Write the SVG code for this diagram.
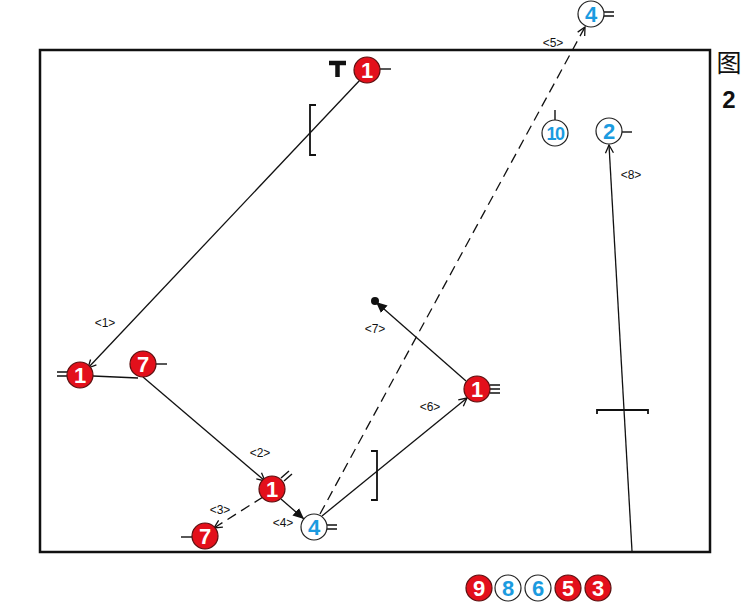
<svg xmlns="http://www.w3.org/2000/svg" width="750" height="603" viewBox="0 0 750 603">
<defs>
<style>
.red circle{fill:#e3101b;stroke:#5a1010;stroke-width:1.2}
.blue circle{fill:#fff;stroke:#222;stroke-width:1.2}
.num{font-family:"Liberation Sans",Arial,sans-serif;font-weight:bold;font-size:22px;text-anchor:middle}
.red .num{fill:#fff}
.blue .num{fill:#1b9be0}
.tail{stroke:#111;stroke-width:1.4;fill:none}
.lbl{font-family:"Liberation Sans",Arial,sans-serif;font-size:12px;fill:#111;text-anchor:middle}
.c{stroke:#111;stroke-width:1.3;fill:none}
.d{stroke-dasharray:10,6}
.br{stroke:#111;stroke-width:1.8;fill:none}
</style>
<marker id="open" markerWidth="10" markerHeight="10" refX="9" refY="5" orient="auto" markerUnits="userSpaceOnUse">
<path d="M1,1 L9,5 L1,9" fill="none" stroke="#111" stroke-width="1.3"/>
</marker>
<marker id="solid" markerWidth="12" markerHeight="10" refX="11" refY="5" orient="auto" markerUnits="userSpaceOnUse">
<path d="M0,0 L11,5 L0,10 Z" fill="#111"/>
</marker>
</defs>
<rect width="750" height="603" fill="#fff"/>
<rect x="40" y="50" width="670" height="502" fill="none" stroke="#111" stroke-width="2.5"/>
<text x="729" y="72" font-family="'Noto Sans CJK SC',sans-serif" font-size="25" text-anchor="middle" fill="#111">图</text>
<text x="729" y="108" font-family="'Liberation Sans',Arial,sans-serif" font-weight="bold" font-size="24" text-anchor="middle" fill="#111">2</text>

<g id="connectors">
<line class="c" x1="360" y1="80" x2="88" y2="368" marker-end="url(#open)"/>
<line class="c" x1="93" y1="376" x2="138" y2="378"/>
<line class="c" x1="143" y1="377" x2="265" y2="481" marker-end="url(#open)"/>
<line class="c d" x1="263" y1="497" x2="214" y2="528" marker-end="url(#open)"/>
<line class="c" x1="281" y1="499" x2="304" y2="519" marker-end="url(#solid)"/>
<line class="c d" x1="320" y1="514" x2="585" y2="27" marker-end="url(#open)"/>
<line class="c" x1="322" y1="516" x2="467" y2="398" marker-end="url(#open)"/>
<line class="c" x1="466" y1="381" x2="376" y2="302" marker-end="url(#solid)"/>
<line class="c" x1="632" y1="551" x2="609" y2="145" marker-end="url(#open)"/>
<text class="lbl" x="105" y="327">&lt;1&gt;</text>
<text class="lbl" x="260" y="457">&lt;2&gt;</text>
<text class="lbl" x="220" y="514">&lt;3&gt;</text>
<text class="lbl" x="283" y="527">&lt;4&gt;</text>
<text class="lbl" x="553" y="47">&lt;5&gt;</text>
<text class="lbl" x="430" y="411">&lt;6&gt;</text>
<text class="lbl" x="375" y="333">&lt;7&gt;</text>
<text class="lbl" x="631" y="179">&lt;8&gt;</text>
</g>

<circle cx="375" cy="301" r="4" fill="#111"/>
<path class="br" d="M316,105 H310 V155 H316"/>
<path class="br" d="M371,451 H377 V500 H371"/>
<path class="br" d="M597,414 V410 H648 V414"/>
<path d="M329,63 H346 M337.5,63 V77" stroke="#111" stroke-width="4.5" fill="none"/>

<g id="n1top" class="red"><line class="tail" x1="380" y1="69" x2="391" y2="69"/><circle cx="367" cy="70" r="13"/><text class="num" x="367" y="78">1</text></g>
<g id="n1left" class="red"><path class="tail" d="M57,372 H67 M57,376 H67"/><circle cx="80" cy="375" r="13"/><text class="num" x="80" y="383">1</text></g>
<g id="n7left" class="red"><line class="tail" x1="156" y1="364" x2="167" y2="364"/><circle cx="143" cy="364" r="13"/><text class="num" x="143" y="372">7</text></g>
<g id="n1mid" class="red"><path class="tail" d="M281,478 L289,471 M284,481 L292,474"/><circle cx="272" cy="489" r="13"/><text class="num" x="272" y="497">1</text></g>
<g id="n7bot" class="red"><line class="tail" x1="181" y1="537" x2="192" y2="537"/><circle cx="205" cy="536" r="13"/><text class="num" x="205" y="544">7</text></g>
<g id="n4bot" class="blue"><path class="tail" d="M327,525 H337 M327,529 H337"/><circle cx="314" cy="527" r="13"/><text class="num" x="314" y="535">4</text></g>
<g id="n1right" class="red"><path class="tail" d="M490,385 H500 M490,389 H500 M490,393 H500"/><circle cx="477" cy="389" r="13"/><text class="num" x="477" y="397">1</text></g>
<g id="n4top" class="blue"><path class="tail" d="M604,12 H614 M604,16 H614"/><circle cx="591" cy="14" r="13"/><text class="num" x="591" y="22">4</text></g>
<g id="n10" class="blue"><line class="tail" x1="555" y1="110" x2="555" y2="120"/><circle cx="555" cy="133" r="13"/><text class="num" x="555" y="140" style="font-size:18px;letter-spacing:-1.5px">10</text></g>
<g id="n2" class="blue"><line class="tail" x1="622" y1="132" x2="632" y2="132"/><circle cx="609" cy="131" r="13"/><text class="num" x="609" y="139">2</text></g>

<g id="legend">
<g class="red"><circle cx="479" cy="588" r="13"/><text class="num" x="479" y="596">9</text></g>
<g class="blue"><circle cx="508" cy="588" r="13"/><text class="num" x="508" y="596">8</text></g>
<g class="blue"><circle cx="538" cy="588" r="13"/><text class="num" x="538" y="596">6</text></g>
<g class="red"><circle cx="568" cy="588" r="13"/><text class="num" x="568" y="596">5</text></g>
<g class="red"><circle cx="598" cy="588" r="13"/><text class="num" x="598" y="596">3</text></g>
</g>
</svg>
